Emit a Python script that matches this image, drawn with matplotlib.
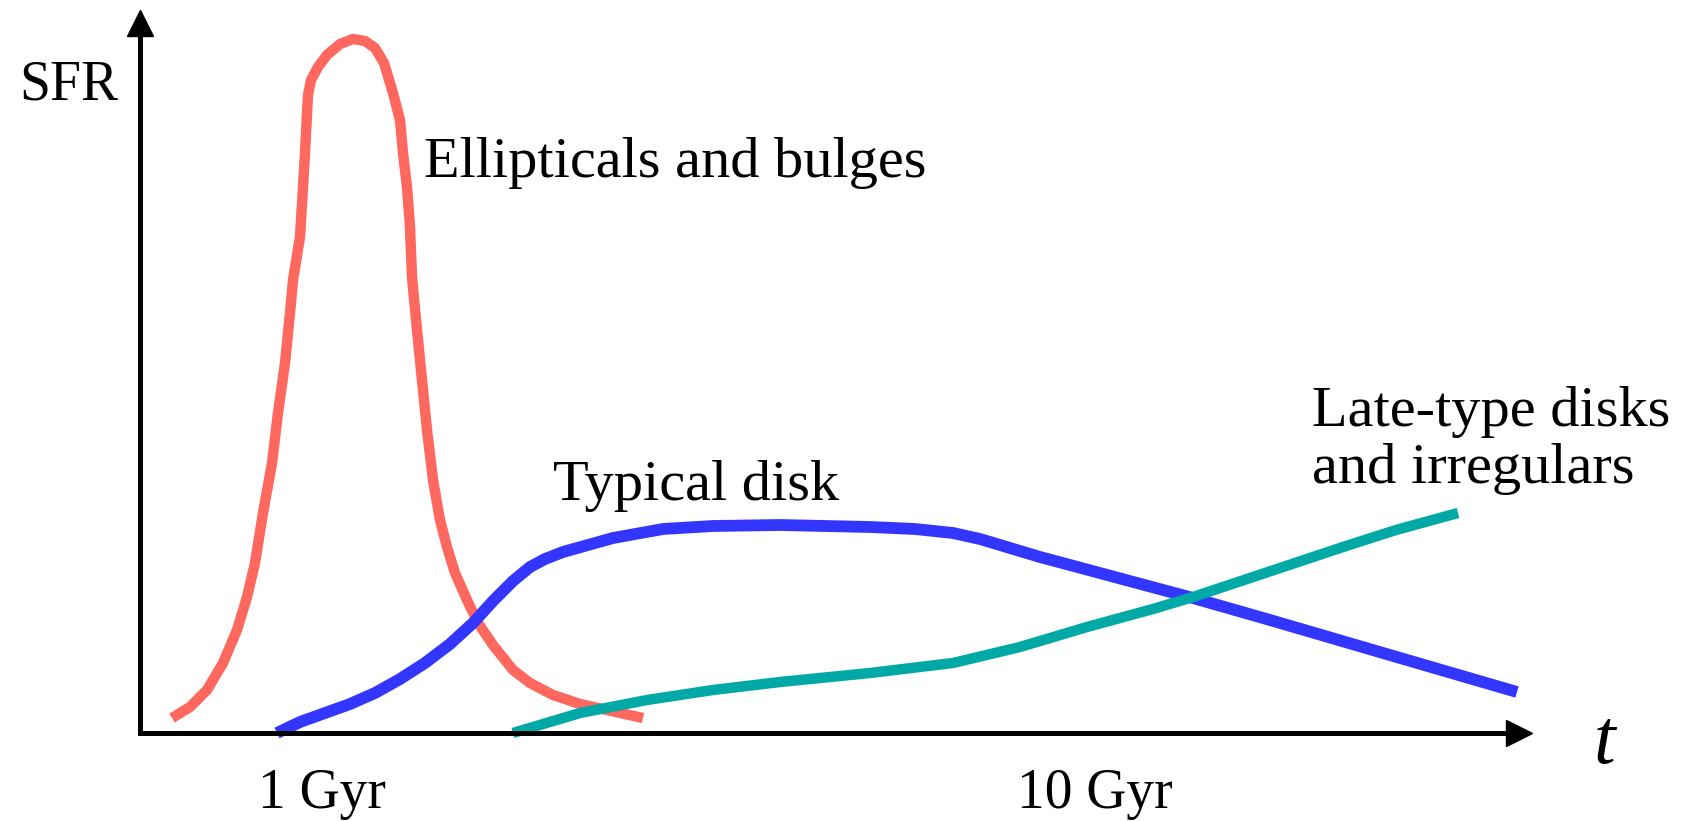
import matplotlib
matplotlib.use('Agg')
import matplotlib.pyplot as plt

# Schematic star formation histories (arbitrary units: time, SFR)
ellip_t = [3.2, 5.0, 6.7, 8.3, 9.7, 10.7, 11.5, 12.3, 13.2, 13.8, 14.5, 15.0,
           15.3, 16.0, 16.3, 16.5, 16.7, 16.8, 17.1, 17.8, 18.7, 20.0, 21.3,
           22.5, 23.5, 24.4, 25.3, 26.0, 26.3, 26.7, 27.0, 27.2, 27.7, 28.2,
           28.7, 29.3, 30.0, 30.7, 31.5, 32.7, 33.8, 35.3, 37.3, 39.0, 41.3,
           44.0, 46.7, 50.3]
ellip_sfr = [1.5, 2.6, 4.3, 7.0, 10.3, 13.6, 17.0, 22.0, 27.0, 32.0, 37.0, 42.0,
             45.3, 49.6, 54.6, 58.0, 62.0, 63.8, 65.3, 66.6, 67.8, 68.9, 69.4,
             69.2, 68.5, 67.0, 64.0, 61.3, 58.0, 54.6, 50.6, 45.6, 40.3, 35.3,
             30.3, 25.3, 21.3, 18.6, 16.0, 13.3, 11.0, 8.8, 6.3, 5.0, 3.8,
             2.9, 2.3, 1.5]

disk_t = [13.7, 16.0, 18.5, 21.0, 23.5, 26.0, 28.5, 31.0, 33.3, 35.3, 37.3,
          39.0, 40.5, 42.3, 47.3, 52.3, 57.3, 64.0, 73.0, 77.5, 81.3, 84.0,
          87.0, 90.0, 93.0, 99.7, 105.3, 113.0, 124.3, 137.7]
disk_sfr = [0.0, 1.1, 2.0, 2.9, 4.0, 5.4, 7.0, 8.9, 11.0, 13.2, 15.2,
            16.6, 17.4, 18.1, 19.5, 20.4, 20.7, 20.8, 20.6, 20.4, 20.0, 19.4,
            18.5, 17.6, 16.8, 15.0, 13.5, 11.3, 8.0, 4.1]

late_t = [37.3, 44.0, 50.7, 57.3, 64.0, 73.0, 81.3, 88.0, 94.7, 101.3, 105.3,
          109.5, 114.9, 120.3, 125.6, 131.8]
late_sfr = [0.0, 2.0, 3.3, 4.3, 5.1, 6.0, 7.0, 8.6, 10.6, 12.4, 13.6,
            15.0, 16.8, 18.6, 20.3, 22.0]

tick_pos = [18.2, 95.5]
tick_labels = ['1 Gyr', '10 Gyr']

RED = '#ff685e'
BLUE = '#3236ff'
TEAL = '#00a9a6'
SERIF = 'Liberation Serif'

fig = plt.figure(figsize=(16.84, 8.21), dpi=100)
ax = fig.add_axes([140 / 1684, 88 / 821, 1379 / 1684, 710 / 821])
ax.set_xlim(0, 137.9)
ax.set_ylim(0, 71.0)

ax.plot(ellip_t, ellip_sfr, color=RED, lw=7.5, clip_on=False,
        solid_joinstyle='round', solid_capstyle='butt')
ax.plot(disk_t, disk_sfr, color=BLUE, lw=8.5, clip_on=False,
        solid_joinstyle='round', solid_capstyle='butt')
ax.plot(late_t, late_sfr, color=TEAL, lw=7.5, clip_on=False,
        solid_joinstyle='round', solid_capstyle='butt')

# axes with arrow heads
for s in ['top', 'right']:
    ax.spines[s].set_visible(False)
for s in ['left', 'bottom']:
    ax.spines[s].set_linewidth(3.6)
ax.plot(1, 0, '>k', ms=19, transform=ax.transAxes, clip_on=False)
ax.plot(0, 1, '^k', ms=19, transform=ax.transAxes, clip_on=False)
ax.set_xticks([])
ax.set_yticks([])

txt = dict(family=SERIF, fontsize=42, color='black', va='baseline')
ax.text(28.4, 55.6, 'Ellipticals and bulges', ha='left', **txt)
ax.text(41.3, 23.3, 'Typical disk', ha='left', **txt)
# baseline of the last line
ax.text(117.2, 25.0, 'Late-type disks\nand irregulars', ha='left',
        linespacing=1.12, **txt)
ax.text(-12.1, 63.4, 'SFR', family=SERIF, fontsize=40, ha='left',
        va='baseline')
ax.text(146.4, -3.0, 't', family=SERIF, style='italic', fontsize=56,
        ha='center', va='baseline')
for x, lab in zip(tick_pos, tick_labels):
    ax.text(x, -7.5, lab, family=SERIF, fontsize=40, ha='center',
            va='baseline')

fig.savefig('out.png', dpi=100)
